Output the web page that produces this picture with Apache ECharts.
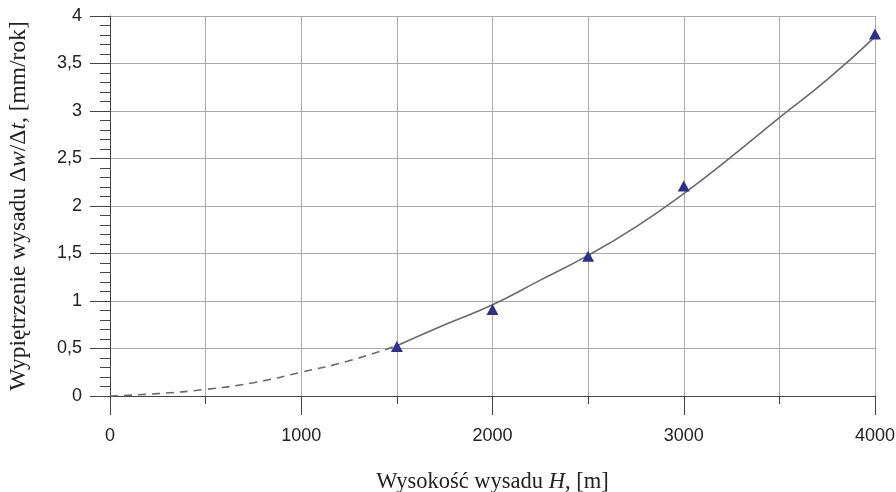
<!DOCTYPE html>
<html>
<head>
<meta charset="utf-8">
<script src="https://cdn.jsdelivr.net/npm/echarts@6/dist/echarts.min.js"></script>
<style>html,body{margin:0;padding:0;background:#fff}#c{width:896px;height:492px}</style>
</head>
<body>
<div id="c"></div>
<script>
// Curve (dashed extrapolation part)
var heightsDashed = [0, 250, 500, 750, 1000, 1250, 1500];
var upliftDashed = [0, 0.025, 0.07, 0.14, 0.25, 0.37, 0.53];
// Curve (solid part)
var heightsSolid = [1500, 1750, 2000, 2250, 2500, 2750, 3000, 3250, 3500, 3750, 4000];
var upliftSolid = [0.53, 0.75, 0.96, 1.22, 1.48, 1.78, 2.13, 2.52, 2.93, 3.33, 3.78];
// Measured points (triangles)
var heightsPts = [1500, 2000, 2500, 3000, 4000];
var upliftPts = [0.52, 0.91, 1.47, 2.21, 3.81];
// Tick labels
var xTickLabels = ['0', '1000', '2000', '3000', '4000'];

function pairs(xs, ys) { return xs.map(function (x, i) { return [x, ys[i]]; }); }

var chart = echarts.init(document.getElementById('c'), null, {renderer: 'canvas'});
function serifRich(size) {
  return {
    n: {fontFamily: 'Liberation Serif', fontSize: size, color: '#222'},
    i: {fontFamily: 'Liberation Serif', fontSize: size, fontStyle: 'italic', color: '#222'}
  };
}
chart.setOption({
  animation: false,
  grid: {left: 110, right: 21, top: 16, bottom: 96, containLabel: false, outerBoundsMode: 'none'},
  xAxis: [{
    type: 'value', min: 0, max: 4000, interval: 500, position: 'bottom',
    axisLine: {show: true, onZero: false, lineStyle: {color: '#444', width: 1}},
    axisTick: {show: true, length: 8, lineStyle: {color: '#444'}},
    axisLabel: {
      margin: 31, fontFamily: 'Liberation Sans', fontSize: 18, color: '#222',
      formatter: function (v) { var s = String(v); return xTickLabels.indexOf(s) >= 0 ? s : ''; }
    },
    splitLine: {show: true, lineStyle: {color: '#aaa', width: 1}},
    name: '{n|Wysokość wysadu }{i|H}{n|, [m]}',
    nameLocation: 'middle', nameGap: 75,
    nameTextStyle: {rich: serifRich(22.5)}
  }, {
    type: 'value', min: 0, max: 4000, interval: 1000, position: 'bottom',
    axisLine: {show: false, onZero: false},
    axisTick: {show: true, length: 19, lineStyle: {color: '#444'}},
    axisLabel: {show: false},
    splitLine: {show: false}
  }],
  yAxis: {
    type: 'value', min: 0, max: 4, interval: 0.5,
    axisLine: {show: true, onZero: false, lineStyle: {color: '#444', width: 1}},
    axisTick: {show: true, length: 20, lineStyle: {color: '#444'}},
    minorTick: {show: true, splitNumber: 5, length: 10, lineStyle: {color: '#444'}},
    axisLabel: {
      margin: 28, fontFamily: 'Liberation Sans', fontSize: 18, color: '#222',
      formatter: function (v) { return String(v).replace('.', ','); }
    },
    splitLine: {show: true, lineStyle: {color: '#aaa', width: 1}},
    name: '{n|Wypiętrzenie wysadu Δ}{i|w}{n|/Δ}{i|t}{n|, [mm/rok]}',
    nameLocation: 'middle', nameGap: 79, nameRotate: 90,
    nameTextStyle: {rich: serifRich(23.5)}
  },
  series: [{
    type: 'line', smooth: true, showSymbol: false, symbol: 'none',
    data: pairs(heightsDashed, upliftDashed),
    lineStyle: {color: '#6a6a6a', width: 1.6, type: [8, 6]}
  }, {
    type: 'line', smooth: true, showSymbol: false, symbol: 'none',
    data: pairs(heightsSolid, upliftSolid),
    lineStyle: {color: '#6a6a6a', width: 1.6}
  }, {
    type: 'scatter', symbol: 'triangle', symbolSize: [12, 11], clip: false,
    data: pairs(heightsPts, upliftPts),
    itemStyle: {color: '#28328f', opacity: 1}, z: 5
  }]
});
</script>
</body>
</html>
